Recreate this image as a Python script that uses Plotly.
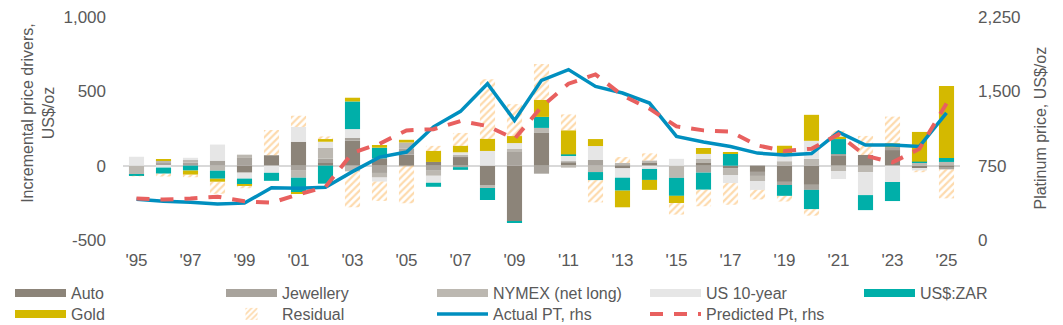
import plotly.graph_objects as go

years = list(range(1995, 2026))
tick_years = years[::2]
tick_labels = ["'" + str(y)[2:] for y in tick_years]
left_ticks = [-500, 0, 500, 1000]
left_tick_labels = ["-500", "0", "500", "1,000"]
right_ticks = [0, 750, 1500, 2250]
right_tick_labels = ["0", "750", "1,500", "2,250"]

auto = [0, 0, 0, 0, -47, 70, 161, 18, 168, 49, 74, 25, 58, -130, -376, 220, 18, 0, -18, 18,
        0, 18, -16, -42, -109, -129, 65, 72, 105, -22, -13]
jewellery = [0, 18, 20, 34, 52, 0, -34, 29, 20, -49, 42, -34, -10, 0, 92, -54, 11, 38, 9, 0,
             0, -47, 0, -27, -21, -34, 13, 0, 20, 0, -12]
nymex = [-60, 20, 20, -34, 22, 0, -47, 74, -38, -31, 40, -34, 16, -20, 20, 34, -13, -43, 9, 16,
         -82, 27, -47, -34, 30, 46, -36, -43, 0, 18, 25]
us10 = [60, -13, 13, 108, -40, -48, 99, 40, 58, -27, 0, -47, 16, 99, 40, 0, 40, 94, -63, -22,
        46, 34, -54, -60, 50, 121, -54, -155, -110, -10, 0]
zar = [-7, -40, -33, -54, -40, -54, -99, -121, 186, 72, 0, -27, -18, -81, -7, 74, 7, -54, -87, -74,
       -121, -114, 85, 0, -73, -129, 101, -101, -128, 9, 27]
gold = [0, 7, -27, -20, -7, 0, -7, 18, 25, 18, 18, 74, 43, 81, 47, 114, 161, 47, -112, -67,
        -48, 40, 7, 0, 54, 175, 16, 0, 25, 200, 484]
residual = [-5, -20, -18, -81, -18, 170, 76, 18, -242, -130, -253, 34, 87, 401, 215, 242, 108, -150, 40, 49,
            -78, -112, -146, -64, -38, -44, 40, 128, 180, -12, -195]

actual_pt = [412, 390, 381, 362, 372, 527, 522, 533, 690, 836, 887, 1142, 1298, 1577, 1207, 1611, 1719, 1550, 1483, 1382,
             1045, 988, 944, 877, 857, 872, 1089, 958, 958, 944, 1283]
predicted_pt = [418, 408, 418, 437, 391, 376, 460, 535, 880, 971, 1106, 1118, 1200, 1150, 1020, 1344, 1577, 1671, 1459, 1325,
                1146, 1106, 1093, 954, 897, 921, 1065, 850, 783, 921, 1378]

bar_series = [
    ("Auto", auto, "#8C8479", "legend"),
    ("Jewellery", jewellery, "#A8A39C", "legend2"),
    ("NYMEX (net long)", nymex, "#BCB8B1", "legend3"),
    ("US 10-year", us10, "#E6E6E6", "legend4"),
    ("US$:ZAR", zar, "#00AFA9", "legend5"),
    ("Gold", gold, "#D4B900", "legend6"),
]

fig = go.Figure()
for name, vals, color, lg in bar_series:
    fig.add_trace(go.Bar(x=years, y=vals, name=name, marker=dict(color=color, line=dict(width=0)),
                         legend=lg, yaxis="y", showlegend=False, legendgroup=name))

fig.add_trace(go.Bar(x=years, y=residual, name="Residual", legend="legend7", yaxis="y",
                     marker=dict(color="rgba(255,255,255,0)", line=dict(width=0),
                                 pattern=dict(shape="/", fgcolor="#FBB65C", bgcolor="rgba(255,255,255,0)",
                                              size=5, solidity=0.45))))

fig.add_trace(go.Scatter(x=years, y=actual_pt, name="Actual PT, rhs", mode="lines", yaxis="y2",
                         legend="legend8", line=dict(color="#008FBF", width=3.5)))
fig.add_trace(go.Scatter(x=years, y=predicted_pt, name="Predicted Pt, rhs", mode="lines", yaxis="y2",
                         legend="legend9", line=dict(color="#E8605F", width=4, dash="13px,11px")))

# wide rectangular legend keys for the bar series (legend-only entries, no data)
for name, vals, color, lg in bar_series:
    fig.add_trace(go.Scatter(x=[None], y=[None], mode="lines", name=name, legend=lg, legendgroup=name,
                             line=dict(color=color, width=8), hoverinfo="skip", yaxis="y"))

font_c = "#595959"
fam = "Liberation Sans, Arial, sans-serif"
W, H = 1063, 325


def item_legend(px_x, px_top):
    return dict(orientation="v", xref="container", yref="container", x=px_x / W, xanchor="left",
                y=1 - px_top / H, yanchor="top", itemwidth=51, font=dict(size=16, color=font_c),
                bgcolor="rgba(0,0,0,0)", traceorder="normal", tracegroupgap=0, itemclick=False,
                borderwidth=0)


cols = [10, 221, 432, 645, 859]
row1_top, row2_top = 276, 297

fig.update_layout(
    width=W, height=H,
    margin=dict(l=123, r=103, t=17, b=85, autoexpand=False),
    paper_bgcolor="white", plot_bgcolor="white",
    barmode="relative", bargap=0.44,
    font=dict(family=fam, size=16, color=font_c),
    showlegend=True,
    xaxis=dict(range=[1994.5, 2025.5], tickvals=tick_years, ticktext=tick_labels,
               showgrid=False, zeroline=False, showline=False, ticks="",
               tickfont=dict(size=17, color=font_c), ticklabelstandoff=8),
    yaxis=dict(range=[-500, 1000], tickvals=left_ticks, ticktext=left_tick_labels,
               showgrid=False, zeroline=True, zerolinecolor="#D9D9D9", zerolinewidth=2,
               showline=False, ticks="", tickfont=dict(size=17, color=font_c), ticklabelstandoff=16),
    yaxis2=dict(range=[0, 2250], tickvals=right_ticks, ticktext=right_tick_labels, overlaying="y",
                side="right", showgrid=False, zeroline=False, showline=False, ticks="",
                tickfont=dict(size=17, color=font_c), ticklabelstandoff=17),
    legend=item_legend(cols[0], row1_top),
    legend2=item_legend(cols[1], row1_top),
    legend3=item_legend(cols[2], row1_top),
    legend4=item_legend(cols[3], row1_top),
    legend5=item_legend(cols[4], row1_top),
    legend6=item_legend(cols[0], row2_top),
    legend7=item_legend(cols[1], row2_top),
    legend8=item_legend(cols[2], row2_top),
    legend9=item_legend(cols[3], row2_top),
    annotations=[
        dict(text="Incremental price drivers,<br>US$/oz", xref="paper", yref="paper",
             x=-0.1016, y=0.57, xanchor="center", yanchor="middle", textangle=-90, showarrow=False,
             font=dict(size=16, color=font_c, family=fam)),
        dict(text="Platinum price, US$/oz", xref="paper", yref="paper",
             x=1.0956, y=0.5, xanchor="center", yanchor="middle", textangle=-90, showarrow=False,
             font=dict(size=16, color=font_c, family=fam)),
    ],
)

fig.write_html("out.html")
